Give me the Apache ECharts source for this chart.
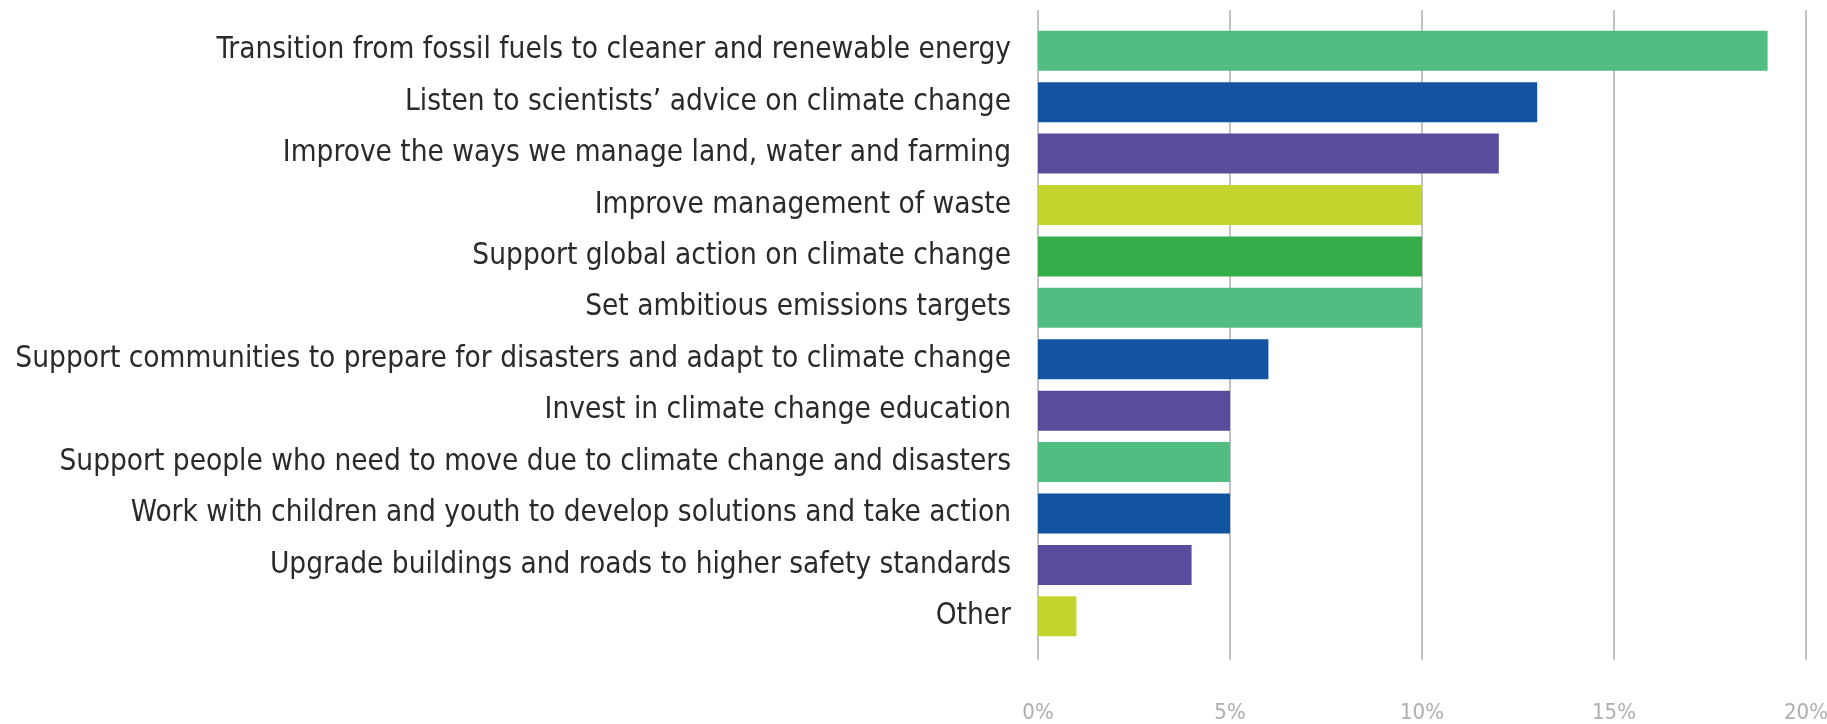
<!DOCTYPE html>
<html>
<head>
<meta charset="utf-8">
<script src="https://cdn.jsdelivr.net/npm/echarts@6/dist/echarts.min.js"></script>
<style>
html,body{margin:0;padding:0;background:#fff;}
#chart{width:1827px;height:724px;}
</style>
</head>
<body>
<div id="chart"></div>
<script>
const categories = [
  "Transition from fossil fuels to cleaner and renewable energy",
  "Listen to scientists’ advice on climate change",
  "Improve the ways we manage land, water and farming",
  "Improve management of waste",
  "Support global action on climate change",
  "Set ambitious emissions targets",
  "Support communities to prepare for disasters and adapt to climate change",
  "Invest in climate change education",
  "Support people who need to move due to climate change and disasters",
  "Work with children and youth to develop solutions and take action",
  "Upgrade buildings and roads to higher safety standards",
  "Other"
];
const values = [19, 13, 12, 10, 10, 10, 6, 5, 5, 5, 4, 1];
const barColors = ["#52BD80", "#1254A0", "#5A4C9C", "#C2D52F", "#35AE4A", "#52BD80",
                   "#1254A0", "#5A4C9C", "#52BD80", "#1254A0", "#5A4C9C", "#C2D52F"];
const tickValues = [0, 5, 10, 15, 20];

const chart = echarts.init(document.getElementById('chart'));
const labelFont = "DejaVu Sans Condensed";
chart.setOption({
  animation: false,
  grid: [
    {left: 1038, right: 21, top: 25, bottom: 82, outerBoundsMode: 'none', containLabel: false},
    {left: 1038, right: 21, top: 10, bottom: 64, outerBoundsMode: 'none', containLabel: false}
  ],
  xAxis: [
    {gridIndex: 0, type: 'value', min: 0, max: 20, interval: 5,
     axisLabel: {show: false}, splitLine: {show: false}, axisLine: {show: false}, axisTick: {show: false}},
    {gridIndex: 1, type: 'value', min: 0, max: 20, interval: 5,
     axisLine: {show: false}, axisTick: {show: false},
     splitLine: {show: true, lineStyle: {color: '#c2c2c6', width: 2}},
     axisLabel: {margin: 42, color: '#adadb2', fontSize: 22, fontFamily: labelFont,
                 formatter: v => tickValues.includes(v) ? v + '%' : ''}}
  ],
  yAxis: [
    {gridIndex: 0, type: 'category', data: categories, inverse: true,
     axisLine: {show: false}, axisTick: {show: false},
     axisLabel: {margin: 27, color: '#2a2a2a', fontSize: 29.5, fontFamily: labelFont}},
    {gridIndex: 1, type: 'value', show: false}
  ],
  series: [{
    type: 'bar',
    xAxisIndex: 0, yAxisIndex: 0,
    barWidth: 40,
    data: values.map((v, i) => ({value: v, itemStyle: {color: barColors[i]}}))
  }]
});
</script>
</body>
</html>
